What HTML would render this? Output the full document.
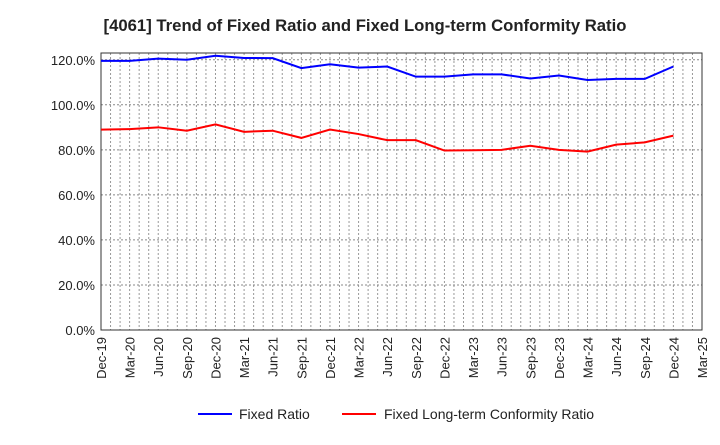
<!DOCTYPE html>
<html><head><meta charset="utf-8"><style>
body{margin:0;background:#fff;font-family:"Liberation Sans",sans-serif;}
svg text{font-family:"Liberation Sans",sans-serif;}
</style></head><body>
<svg id="chart" width="720" height="440" xmlns="http://www.w3.org/2000/svg">
<text x="365" y="31" text-anchor="middle" font-size="16.7" font-weight="bold" fill="#222">[4061]  Trend of Fixed Ratio and Fixed Long-term Conformity Ratio</text>
<g id="grid"></g><g id="axes"></g><g id="series"></g>
<g>
<line x1="198" y1="414" x2="232" y2="414" stroke="#0000ff" stroke-width="2"/>
<text x="239" y="419" font-size="14" fill="#222">Fixed Ratio</text>
<line x1="342" y1="414" x2="376" y2="414" stroke="#ff0000" stroke-width="2"/>
<text x="384" y="419" font-size="14" fill="#222">Fixed Long-term Conformity Ratio</text>
</g>
</svg>
<script>
const xLabels=["Dec-19","Mar-20","Jun-20","Sep-20","Dec-20","Mar-21","Jun-21","Sep-21","Dec-21","Mar-22","Jun-22","Sep-22","Dec-22","Mar-23","Jun-23","Sep-23","Dec-23","Mar-24","Jun-24","Sep-24","Dec-24","Mar-25"];
const yTicks=[0,20,40,60,80,100,120];
const fixedRatio=[119.5,119.5,120.5,120,121.8,120.8,120.7,116.3,118,116.5,117,112.5,112.5,113.5,113.5,111.7,113,111,111.5,111.5,117];
const conformityRatio=[89,89.2,90,88.5,91.3,88,88.5,85.3,89,87,84.3,84.3,79.7,79.8,80,81.8,80,79.2,82.3,83.3,86.3];
const L=101,R=702,T=53,B=330;
const x=i=>L+i*(R-L)/(xLabels.length-1);
const y=v=>B-v*(B-T)/123;
const NS="http://www.w3.org/2000/svg";
function mk(tag,attrs,parent){const e=document.createElementNS(NS,tag);for(const k in attrs)e.setAttribute(k,attrs[k]);parent.appendChild(e);return e;}
const grid=document.getElementById('grid'),axes=document.getElementById('axes'),ser=document.getElementById('series');
for(let m=1;m<(xLabels.length-1)*3;m++){const xx=L+m*(R-L)/((xLabels.length-1)*3);
const g=mk('line',{x1:xx,x2:xx,y1:T,y2:B,stroke:'#999','stroke-width':1,'stroke-dasharray':'2,2'},grid);

}
yTicks.forEach(v=>{if(v>0){const g=mk('line',{x1:L,x2:R,y1:y(v),y2:y(v),stroke:'#888','stroke-width':1,'stroke-dasharray':'2,2'},grid);

}
const t=mk('text',{x:L-6,y:y(v)+5,'text-anchor':'end','font-size':13,fill:'#222'},axes);t.textContent=v.toFixed(1)+'%';

});
const frame=mk('rect',{x:L,y:T,width:R-L,height:B-T,fill:'none',stroke:'#333','stroke-width':1},axes);


xLabels.forEach((s,i)=>{const t=mk('text',{transform:`translate(${x(i)+5},${B+7}) rotate(-90)`,'text-anchor':'end','font-size':13,fill:'#222'},axes);t.textContent=s;

});
function line(data,color,name){const p=mk('polyline',{points:data.map((v,i)=>x(i)+','+y(v)).join(' '),fill:'none',stroke:color,'stroke-width':2},ser);

}
line(fixedRatio,'#0000ff','fixed-ratio-line');
line(conformityRatio,'#ff0000','conformity-ratio-line');
</script>
</body></html>
